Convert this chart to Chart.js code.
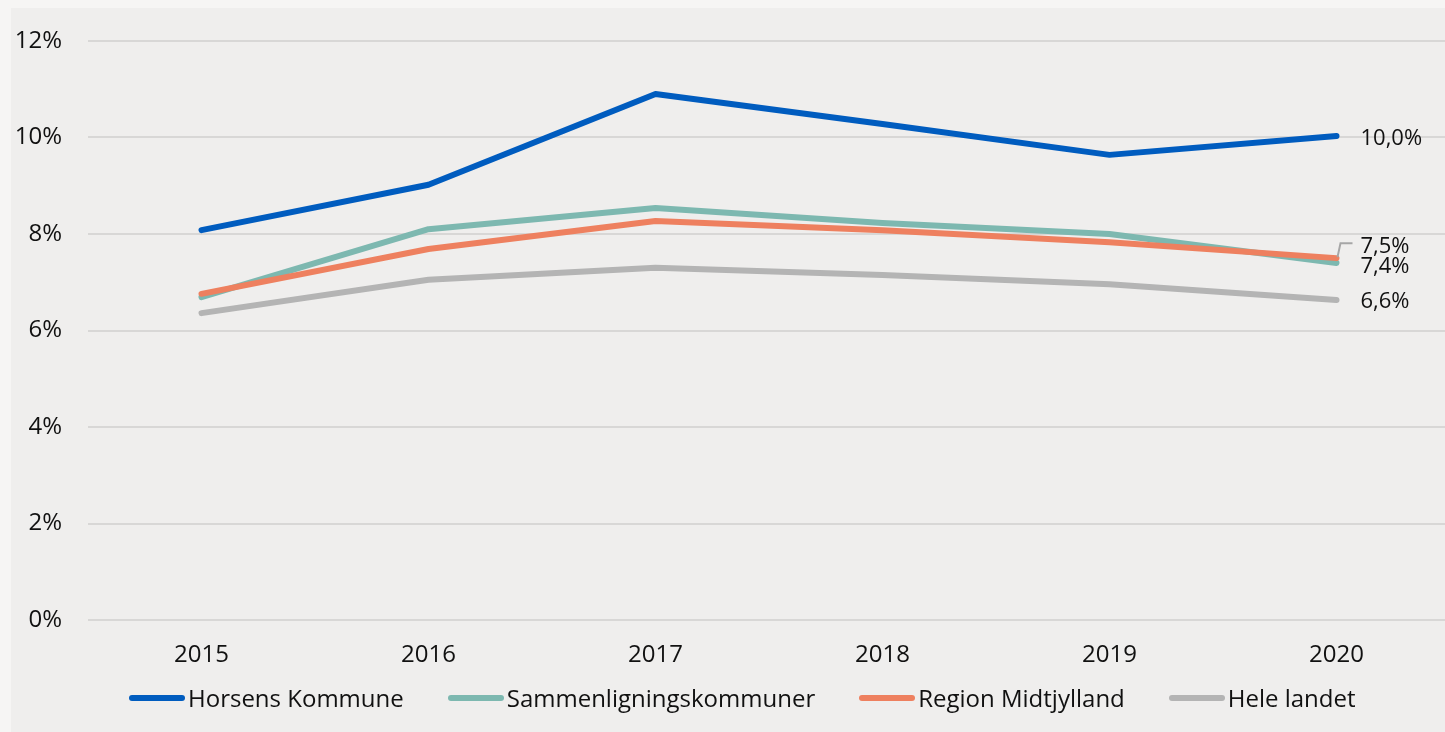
<!DOCTYPE html>
<html>
<head>
<meta charset="utf-8">
<script src="https://cdn.jsdelivr.net/npm/chart.js@4"></script>
<style>
  html, body { margin: 0; padding: 0; background: #f6f5f4; overflow: hidden; width: 1445px; height: 732px; }
  #panel { position: absolute; left: 11px; top: 8px; width: 1450px; height: 724px; background: #efeeed; }
  #legend { position: absolute; left: 118px; top: 673px; display: flex; font-family: "Open Sans", sans-serif; font-size: 24px; color: #111; }
  .item { display: flex; align-items: center; margin-right: 44px; }
  .swatch { width: 56px; height: 6px; border-radius: 3px; margin-right: 3px; }
</style>
</head>
<body>
<div id="panel">
  <canvas id="chart"></canvas>
  <div id="legend"></div>
</div>
<script>
// data
const years = ['2015', '2016', '2017', '2018', '2019', '2020'];
const horsens = [8.08, 9.02, 10.9, 10.28, 9.64, 10.03];
const sammenligning = [6.69, 8.1, 8.54, 8.23, 8.0, 7.4];
const region = [6.76, 7.69, 8.27, 8.08, 7.83, 7.5];
const heleLandet = [6.36, 7.05, 7.3, 7.15, 6.96, 6.63];
const yTicks = [0, 2, 4, 6, 8, 10, 12];

const series = [
  { label: 'Horsens Kommune', data: horsens, color: '#005cbf', order: 0 },
  { label: 'Sammenligningskommuner', data: sammenligning, color: '#7db8b0', order: 2 },
  { label: 'Region Midtjylland', data: region, color: '#ee805f', order: 1 },
  { label: 'Hele landet', data: heleLandet, color: '#b4b4b4', order: 3 },
];

// where the end-of-line value labels sit, relative to the last point
const endLabelOffsets = [
  { dx: 24, dy: 3 },
  { dx: 24, dy: 4 },
  { dx: 24, dy: -11, leader: -15 },
  { dx: 24, dy: 2 },
];

const font = { family: '"Open Sans", sans-serif', size: 24 };
const labelFont = { family: '"Open Sans", sans-serif', size: 22 };

const endLabels = {
  id: 'endLabels',
  afterDatasetsDraw(chart) {
    const ctx = chart.ctx;
    ctx.save();
    ctx.font = `${labelFont.size}px ${labelFont.family}`;
    ctx.fillStyle = '#111';
    ctx.textBaseline = 'middle';
    ctx.textAlign = 'left';
    chart.data.datasets.forEach((ds, i) => {
      const meta = chart.getDatasetMeta(i);
      const pt = meta.data[meta.data.length - 1];
      const val = ds.data[ds.data.length - 1];
      const off = endLabelOffsets[i];
      if (off.leader) {
        const ly = pt.y + off.leader;
        ctx.strokeStyle = '#a6a6a6';
        ctx.lineWidth = 2;
        ctx.beginPath();
        ctx.moveTo(pt.x + 1, pt.y - 1);
        ctx.lineTo(pt.x + 4, ly);
        ctx.lineTo(pt.x + 16, ly);
        ctx.stroke();
      }
      ctx.fillText(val.toFixed(1).replace('.', ',') + '%', pt.x + off.dx, pt.y + off.dy);
    });
    ctx.restore();
  }
};

new Chart(document.getElementById('chart'), {
  type: 'line',
  data: {
    labels: years,
    datasets: series.map(s => ({
      label: s.label,
      data: s.data,
      borderColor: s.color,
      backgroundColor: s.color,
      borderWidth: 6,
      borderCapStyle: 'round',
      borderJoinStyle: 'round',
      pointRadius: 0,
      tension: 0,
      order: s.order,
    })),
  },
  options: {
    responsive: true,
    maintainAspectRatio: false,
    animation: false,
    layout: { padding: { top: 33, right: 11, bottom: 56, left: 0 } },
    plugins: {
      legend: { display: false },
      tooltip: { enabled: false },
    },
    scales: {
      x: {
        offset: true,
        grid: { display: false, drawTicks: false },
        border: { display: false },
        ticks: { color: '#111', font: font, padding: 21, maxRotation: 0 },
        afterFit(scale) { scale.height = 56; },
      },
      y: {
        min: 0,
        max: 12,
        afterBuildTicks(scale) { scale.ticks = yTicks.map(v => ({ value: v })); },
        grid: { color: '#d8d7d6', lineWidth: 2, drawTicks: false },
        border: { display: false },
        ticks: { color: '#111', font: font, padding: 26, callback: v => v + '%' },
        afterFit(scale) {
          scale.width = 77;
          // tick padding would otherwise push the plot area down
          scale.paddingTop = 0;
          scale.paddingBottom = 0;
        },
      },
    },
  },
  plugins: [endLabels],
});

const legend = document.getElementById('legend');
series.forEach(s => {
  const item = document.createElement('div');
  item.className = 'item';
  item.innerHTML = `<span class="swatch" style="background:${s.color}"></span><span>${s.label}</span>`;
  legend.appendChild(item);
});
</script>
</body>
</html>
